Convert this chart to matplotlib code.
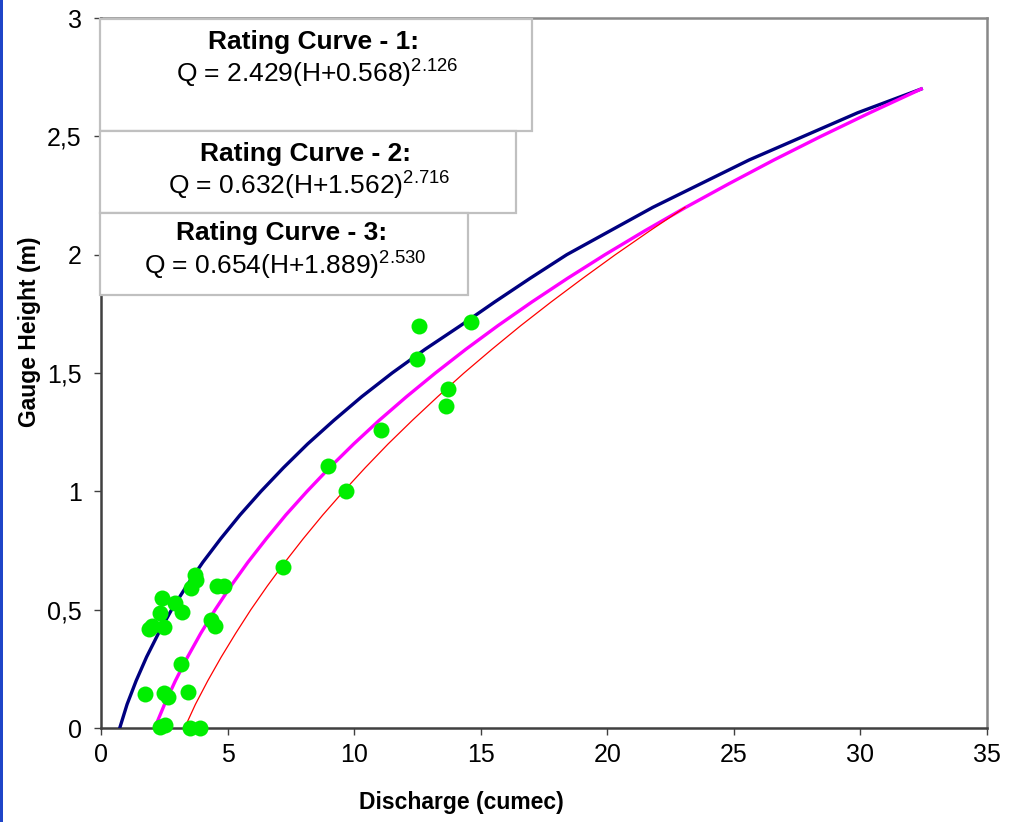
import matplotlib
matplotlib.use("Agg")
import matplotlib.pyplot as plt
from matplotlib.patches import Rectangle

# ---------------------------------------------------------------
# Data
# ---------------------------------------------------------------

# Rating curve 1 (navy)
rc1_h = [0.0, 0.1, 0.2, 0.3, 0.4, 0.5, 0.6, 0.7, 0.8, 0.9, 1.0, 1.1, 1.2, 1.3,
         1.4, 1.5, 1.6, 1.7, 1.8, 1.9, 2.0, 2.2, 2.4, 2.6, 2.7]
rc1_q = [0.74, 1.03, 1.39, 1.80, 2.27, 2.79, 3.38, 4.02, 4.73, 5.49, 6.32, 7.21,
         8.16, 9.20, 10.30, 11.50, 12.80, 14.20, 15.55, 16.95, 18.40, 21.80,
         25.60, 29.90, 32.40]

# Rating curve 2 (magenta)
rc2_h = [0.0, 0.1, 0.2, 0.3, 0.4, 0.5, 0.6, 0.7, 0.8, 0.9, 1.0, 1.1, 1.2, 1.3,
         1.4, 1.5, 1.6, 1.7, 1.8, 1.9, 2.0, 2.1, 2.2, 2.3, 2.4, 2.5, 2.6, 2.7]
rc2_q = [2.12, 2.51, 2.94, 3.42, 3.94, 4.51, 5.13, 5.80, 6.53, 7.30, 8.14, 9.03,
         9.98, 10.99, 12.07, 13.21, 14.41, 15.68, 17.02, 18.43, 19.91, 21.47,
         23.10, 24.81, 26.58, 28.44, 30.38, 32.40]

# Rating curve 3 (red)
rc3_h = [0.0, 0.1, 0.2, 0.3, 0.4, 0.5, 0.6, 0.7, 0.8, 0.9, 1.0, 1.1, 1.2, 1.3,
         1.4, 1.5, 1.6, 1.7, 1.8, 1.9, 2.0, 2.1, 2.2]
rc3_q = [3.30, 3.73, 4.22, 4.75, 5.32, 5.92, 6.57, 7.26, 7.99, 8.76, 9.58,
         10.44, 11.34, 12.30, 13.30, 14.34, 15.44, 16.58, 17.78, 19.03, 20.32,
         21.67, 23.07]

# Observed gaugings
obs_q = [1.74, 1.88, 2.00, 2.33, 2.40, 2.50, 2.92, 3.19, 3.56, 3.71, 3.75,
         4.33, 4.50, 4.60, 4.86, 3.15, 2.50, 2.66, 3.45, 2.33, 2.53, 3.52,
         3.91, 7.18, 8.96, 9.68, 11.07, 12.50, 12.56, 13.62, 13.70, 14.61]
obs_h = [0.144, 0.420, 0.432, 0.485, 0.548, 0.428, 0.527, 0.491, 0.590, 0.646,
         0.625, 0.456, 0.431, 0.600, 0.600, 0.269, 0.149, 0.132, 0.151, 0.003,
         0.013, 0.0, 0.0, 0.679, 1.108, 1.0, 1.259, 1.558, 1.698, 1.360,
         1.431, 1.717]

x_ticks = [0, 5, 10, 15, 20, 25, 30, 35]
y_ticks = [0, 0.5, 1, 1.5, 2, 2.5, 3]
y_tick_labels = ["0", "0,5", "1", "1,5", "2", "2,5", "3"]

boxes = [
    ("Rating Curve - 1:", r"Q = 2.429(H+0.568)$^{\mathregular{2.126}}$"),
    ("Rating Curve - 2:", r"Q = 0.632(H+1.562)$^{\mathregular{2.716}}$"),
    ("Rating Curve - 3:", r"Q = 0.654(H+1.889)$^{\mathregular{2.530}}$"),
]

# ---------------------------------------------------------------
# Style
# ---------------------------------------------------------------
plt.rcParams['font.family'] = ['Liberation Sans', 'DejaVu Sans']
plt.rcParams['mathtext.fontset'] = 'custom'
plt.rcParams['mathtext.rm'] = 'Liberation Sans'

W, H = 1009, 822
fig = plt.figure(figsize=(W / 100, H / 100), dpi=100, facecolor='white')


def fx(px):
    return px / W


def fy(py):
    return 1 - py / H


ax = fig.add_axes([fx(101), fy(728), fx(987) - fx(101), fy(18) - fy(728)])

ax.plot(rc1_q, rc1_h, color='#000080', lw=2.4, zorder=3)
ax.plot(rc2_q, rc2_h, color='#FF00FF', lw=2.4, zorder=3)
ax.plot(rc3_q, rc3_h, color='#FF0000', lw=0.9, zorder=3)
ax.plot(obs_q, obs_h, 'o', color='#00EE00', ms=11.5, mec='none', zorder=4,
        clip_on=False)

ax.set_xlim(0, 35)
ax.set_ylim(0, 3)
ax.set_xticks(x_ticks)
ax.set_yticks(y_ticks)
ax.set_yticklabels(y_tick_labels)
ax.tick_params(direction='out', length=5, width=1, colors='#404040',
               labelcolor='black', labelsize=18)
ax.tick_params(axis='x', pad=6)
ax.tick_params(axis='y', pad=9)

for side in ['left', 'bottom']:
    ax.spines[side].set_color('#404040')
    ax.spines[side].set_linewidth(1.8)
for side in ['top', 'right']:
    ax.spines[side].set_color('#888888')
    ax.spines[side].set_linewidth(1.8)

fig.text(fx(461), fy(802), "Discharge (cumec)", ha='center', va='center',
         fontsize=16.5, fontweight='bold')
fig.text(fx(30), fy(332), "Gauge Height (m)", ha='center', va='center',
         rotation=90, fontsize=16.5, fontweight='bold')

# equation boxes (pixel geometry: left, top, right, bottom, title y, eq y, centre x)
box_geom = [
    (100, 19, 532, 131, 42, 73, 314),
    (100, 131, 516, 213, 154, 185, 306),
    (100, 213, 468, 295, 233, 265, 282),
]
for (title, eq), (l, t, r, b, ty, ey, cx) in zip(boxes, box_geom):
    fig.patches.append(Rectangle((fx(l), fy(b)), fx(r) - fx(l), fy(t) - fy(b),
                                 transform=fig.transFigure, facecolor='white',
                                 edgecolor='#C0C0C0', lw=1.6, zorder=5))
    fig.text(fx(cx), fy(ty), title, ha='center', va='center', fontsize=19,
             fontweight='bold', zorder=6)
    fig.text(fx(cx + 3), fy(ey), eq, ha='center', va='center', fontsize=19,
             zorder=6)

# blue strip at the left edge
fig.patches.append(Rectangle((0, 0), fx(3), 1, transform=fig.transFigure,
                             facecolor='#1F45C8', edgecolor='none', zorder=7))

fig.savefig("out.png", dpi=100, facecolor='white')
